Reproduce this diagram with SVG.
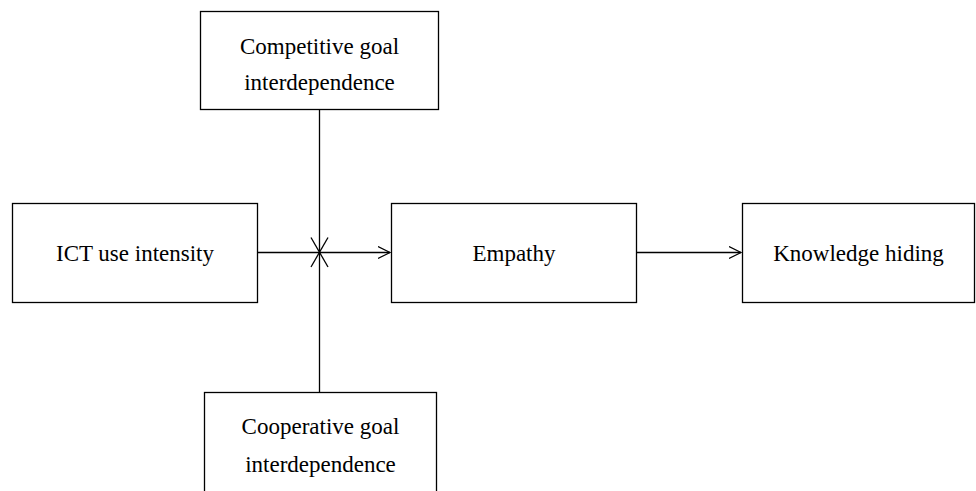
<svg xmlns="http://www.w3.org/2000/svg" width="976" height="491" viewBox="0 0 976 491">
<defs>
<marker id="arr" markerWidth="14" markerHeight="14" refX="12" refY="7" orient="auto" markerUnits="userSpaceOnUse">
<path d="M0,1 L12,7 L0,13" fill="none" stroke="#000" stroke-width="1.2"/>
</marker>
</defs>
<style>
.box{fill:#fff;stroke:#000;stroke-width:1.3}
.t{font-family:"Liberation Serif","Times New Roman",serif;font-size:23px;fill:#000;text-anchor:middle}
.c{stroke:#000;stroke-width:1.3;fill:none}
</style>
<rect width="976" height="491" fill="#fff"/>
<g id="connectors">
<line class="c" x1="319.5" y1="110" x2="319.5" y2="392"/>
<line class="c" x1="258" y1="252.5" x2="390" y2="252.5" marker-end="url(#arr)"/>
<line class="c" x1="311" y1="237.5" x2="328" y2="267"/>
<line class="c" x1="328" y1="237.5" x2="311" y2="267"/>
<line class="c" x1="637" y1="252.5" x2="741" y2="252.5" marker-end="url(#arr)"/>
</g>
<g id="competitive">
<rect class="box" x="200.5" y="11.5" width="238" height="98"/>
<text class="t" x="319.5" y="54">Competitive goal</text>
<text class="t" x="319.5" y="90">interdependence</text>
</g>
<g id="ict">
<rect class="box" x="12.5" y="203.5" width="245" height="99"/>
<text class="t" x="135" y="261">ICT use intensity</text>
</g>
<g id="empathy">
<rect class="box" x="391.5" y="203.5" width="245" height="99"/>
<text class="t" x="514" y="261">Empathy</text>
</g>
<g id="knowledge">
<rect class="box" x="742.5" y="203.5" width="232" height="99"/>
<text class="t" x="858.5" y="261">Knowledge hiding</text>
</g>
<g id="cooperative">
<rect class="box" x="204.5" y="392.5" width="232" height="110"/>
<text class="t" x="320.5" y="434">Cooperative goal</text>
<text class="t" x="320.5" y="472">interdependence</text>
</g>
</svg>
